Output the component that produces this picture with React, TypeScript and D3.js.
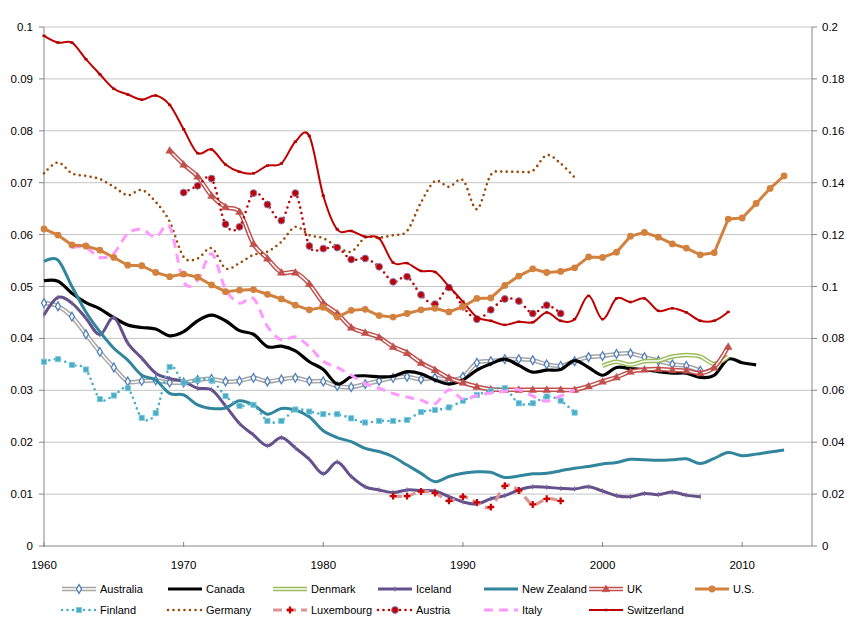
import React from 'react';
import * as d3 from 'd3';

const W = 860;
const H = 628;

// ---- data ----
const australiaStart = 1960;
const australia = [
  0.0468, 0.0462, 0.0442, 0.0408, 0.0374, 0.0344, 0.0317, 0.0318, 0.0319, 0.0315,
  0.0315, 0.0320, 0.0322, 0.0317, 0.0318, 0.0324, 0.0317, 0.0321, 0.0324, 0.0318,
  0.0317, 0.0308, 0.0306, 0.0312, 0.0318, 0.0324, 0.0326, 0.0321, 0.0324, 0.0320,
  0.0326, 0.0353, 0.0356, 0.0360, 0.0360, 0.0358, 0.0350, 0.0347, 0.0356, 0.0364,
  0.0366, 0.0370, 0.0371, 0.0364, 0.0357, 0.0350, 0.0347, 0.0338,
];
const canadaStart = 1960;
const canada = [
  0.0511, 0.0510, 0.0487, 0.0469, 0.0457, 0.0440, 0.0426, 0.0421, 0.0418, 0.0405,
  0.0413, 0.0434, 0.0445, 0.0434, 0.0415, 0.0408, 0.0384, 0.0385, 0.0376, 0.0355,
  0.0340, 0.0312, 0.0326, 0.0328, 0.0326, 0.0327, 0.0336, 0.0332, 0.0320, 0.0312,
  0.0320, 0.0339, 0.0351, 0.0360, 0.0348, 0.0335, 0.0339, 0.0340, 0.0357, 0.0344,
  0.0329, 0.0344, 0.0342, 0.0340, 0.0336, 0.0333, 0.0333, 0.0325, 0.0329, 0.0360,
  0.0353, 0.0349,
];
const denmarkStart = 2000;
const denmark = [0.0347, 0.0355, 0.0349, 0.0356, 0.0357, 0.0365, 0.0368, 0.0365, 0.0351, 0.0365];
const icelandStart = 1960;
const iceland = [
  0.0445, 0.0479, 0.0468, 0.0439, 0.0407, 0.0440, 0.0391, 0.0362, 0.0333, 0.0323,
  0.0317, 0.0304, 0.0301, 0.0270, 0.0236, 0.0214, 0.0193, 0.0209, 0.0189, 0.0167,
  0.0139, 0.0162, 0.0134, 0.0114, 0.0108, 0.0103, 0.0108, 0.0107, 0.0106, 0.0095,
  0.0085, 0.0081, 0.0091, 0.0097, 0.0108, 0.0114, 0.0113, 0.0111, 0.0110, 0.0114,
  0.0106, 0.0097, 0.0095, 0.0101, 0.0099, 0.0104, 0.0098, 0.0095,
];
const newZealandStart = 1960;
const newZealand = [
  0.0548, 0.0551, 0.0500, 0.0451, 0.0413, 0.0381, 0.0358, 0.0329, 0.0320, 0.0294,
  0.0291, 0.0272, 0.0265, 0.0266, 0.0280, 0.0272, 0.0254, 0.0265, 0.0262, 0.0249,
  0.0222, 0.0209, 0.0201, 0.0188, 0.0182, 0.0172, 0.0156, 0.0140, 0.0124, 0.0134,
  0.0140, 0.0143, 0.0142, 0.0132, 0.0135, 0.0139, 0.0140, 0.0145, 0.0150, 0.0153,
  0.0158, 0.0161, 0.0167, 0.0166, 0.0165, 0.0166, 0.0168, 0.0159, 0.0169, 0.0180,
  0.0174, 0.0177, 0.0181, 0.0185,
];
const ukStart = 1969;
const uk = [
  0.0762, 0.0735, 0.0712, 0.0675, 0.0653, 0.0644, 0.0582, 0.0554, 0.0527, 0.0527,
  0.0505, 0.0468, 0.0448, 0.0421, 0.0411, 0.0402, 0.0384, 0.0372, 0.0353, 0.0339,
  0.0324, 0.0315, 0.0307, 0.0302, 0.0301, 0.0301, 0.0301, 0.0301, 0.0301, 0.0301,
  0.0308, 0.0317, 0.0325, 0.0336, 0.0340, 0.0341, 0.0339, 0.0338, 0.0333, 0.0344,
  0.0384,
];
// U.S. is plotted against the secondary (right) axis
const usStart = 1960;
const us = [
  0.1222, 0.1198, 0.1160, 0.1156, 0.1140, 0.1112, 0.1082, 0.1080, 0.1054, 0.1038,
  0.1048, 0.1036, 0.1006, 0.0980, 0.0986, 0.0988, 0.0970, 0.0952, 0.0928, 0.0910,
  0.0920, 0.0882, 0.0908, 0.0912, 0.0888, 0.0882, 0.0896, 0.0910, 0.0916, 0.0902,
  0.0922, 0.0954, 0.0956, 0.1004, 0.1040, 0.1068, 0.1054, 0.1058, 0.1072, 0.1114,
  0.1112, 0.1132, 0.1194, 0.1208, 0.1190, 0.1164, 0.1148, 0.1122, 0.1130, 0.1260,
  0.1264, 0.1320, 0.1378, 0.1426,
];
const finlandStart = 1960;
const finland = [
  0.0355, 0.0360, 0.0349, 0.0340, 0.0283, 0.0290, 0.0304, 0.0247, 0.0256, 0.0345,
  0.0315, 0.0320, 0.0319, 0.0289, 0.0270, 0.0272, 0.0241, 0.0241, 0.0263, 0.0259,
  0.0254, 0.0254, 0.0246, 0.0238, 0.0241, 0.0241, 0.0243, 0.0258, 0.0262, 0.0267,
  0.0280, 0.0291, 0.0299, 0.0304, 0.0275, 0.0275, 0.0288, 0.0280, 0.0257,
];
const germanyStart = 1960;
const germany = [
  0.0718, 0.0739, 0.0718, 0.0713, 0.0707, 0.0692, 0.0676, 0.0686, 0.0663, 0.0625,
  0.0557, 0.0554, 0.0574, 0.0535, 0.0545, 0.0561, 0.0567, 0.0586, 0.0615, 0.0599,
  0.0593, 0.0577, 0.0567, 0.0594, 0.0594, 0.0599, 0.0607, 0.0662, 0.0703, 0.0692,
  0.0705, 0.0649, 0.0715, 0.0721, 0.0721, 0.0723, 0.0753, 0.0737, 0.0710,
];
const luxembourgStart = 1985;
const luxembourg = [
  0.0096, 0.0096, 0.0105, 0.0102, 0.0087, 0.0095, 0.0084, 0.0075, 0.0116, 0.0107,
  0.0080, 0.0091, 0.0087,
];
const austriaStart = 1970;
const austria = [
  0.0681, 0.0694, 0.0708, 0.0620, 0.0615, 0.0680, 0.0658, 0.0627, 0.0680, 0.0578,
  0.0573, 0.0575, 0.0552, 0.0554, 0.0538, 0.0509, 0.0519, 0.0484, 0.0466, 0.0498,
  0.0461, 0.0437, 0.0455, 0.0476, 0.0472, 0.0448, 0.0464, 0.0448,
];
const italyStart = 1962;
const italy = [
  0.0575, 0.0575, 0.0556, 0.0564, 0.0602, 0.0610, 0.0595, 0.0615, 0.0509, 0.0512,
  0.0563, 0.0495, 0.0468, 0.0477, 0.0423, 0.0397, 0.0403, 0.0384, 0.0356, 0.0344,
  0.0329, 0.0313, 0.0304, 0.0294, 0.0287, 0.0281, 0.0274, 0.0301, 0.0283, 0.0290,
  0.0295, 0.0298, 0.0301, 0.0289, 0.0279, 0.0289, 0.0301,
];
const switzerlandStart = 1960;
const switzerland = [
  0.0983, 0.0970, 0.0970, 0.0938, 0.0909, 0.0881, 0.0870, 0.0860, 0.0868, 0.0850,
  0.0803, 0.0757, 0.0764, 0.0735, 0.0721, 0.0718, 0.0733, 0.0737, 0.0779, 0.0790,
  0.0675, 0.0610, 0.0607, 0.0596, 0.0593, 0.0546, 0.0545, 0.0530, 0.0528, 0.0500,
  0.0471, 0.0441, 0.0434, 0.0426, 0.0432, 0.0431, 0.0450, 0.0434, 0.0437, 0.0482,
  0.0437, 0.0477, 0.0470, 0.0477, 0.0453, 0.0458, 0.0450, 0.0434, 0.0434, 0.0451,
];

const xTickYears = [1960, 1970, 1980, 1990, 2000, 2010];
const leftTicks = [0, 0.01, 0.02, 0.03, 0.04, 0.05, 0.06, 0.07, 0.08, 0.09, 0.1];
const rightTicks = [0, 0.02, 0.04, 0.06, 0.08, 0.1, 0.12, 0.14, 0.16, 0.18, 0.2];

type Marker = 'none' | 'diamond' | 'triangle' | 'circle' | 'square' | 'cross' | 'dot' | 'plus' | 'austria';
interface Series {
  name: string;
  start: number;
  values: number[];
  axis: 'L' | 'R';
  color: string;
  width: number;
  double?: boolean;
  dash?: string;
  round?: boolean;
  smooth: boolean;
  marker: Marker;
  markerColor?: string;
}

const series: Series[] = [
  { name: 'Australia', start: australiaStart, values: australia, axis: 'L', color: '#a6a6a6', width: 4.5, double: true, smooth: true, marker: 'diamond', markerColor: '#4f81bd' },
  { name: 'Canada', start: canadaStart, values: canada, axis: 'L', color: '#000000', width: 3.2, smooth: true, marker: 'none' },
  { name: 'Denmark', start: denmarkStart, values: denmark, axis: 'L', color: '#9bbb59', width: 4.5, double: true, smooth: true, marker: 'none' },
  { name: 'Iceland', start: icelandStart, values: iceland, axis: 'L', color: '#64508a', width: 3, smooth: true, marker: 'plus', markerColor: '#8064a2' },
  { name: 'New Zealand', start: newZealandStart, values: newZealand, axis: 'L', color: '#31859c', width: 3, smooth: true, marker: 'none' },
  { name: 'UK', start: ukStart, values: uk, axis: 'L', color: '#c0504d', width: 4.5, double: true, smooth: true, marker: 'triangle', markerColor: '#c0504d' },
  { name: 'Finland', start: finlandStart, values: finland, axis: 'L', color: '#4bacc6', width: 2.6, dash: '0 5.5', round: true, smooth: true, marker: 'square', markerColor: '#4bacc6' },
  { name: 'Germany', start: germanyStart, values: germany, axis: 'L', color: '#984807', width: 2.6, dash: '0 5.5', round: true, smooth: true, marker: 'none' },
  { name: 'Luxembourg', start: luxembourgStart, values: luxembourg, axis: 'L', color: '#d99694', width: 3.2, dash: '9 5', smooth: true, marker: 'cross', markerColor: '#cc0000' },
  { name: 'Austria', start: austriaStart, values: austria, axis: 'L', color: '#c00000', width: 2.6, dash: '0 5.5', round: true, smooth: true, marker: 'austria', markerColor: '#c00000' },
  { name: 'Italy', start: italyStart, values: italy, axis: 'L', color: '#ff99ff', width: 3, dash: '9 6', smooth: true, marker: 'none' },
  { name: 'Switzerland', start: switzerlandStart, values: switzerland, axis: 'L', color: '#c00000', width: 2, smooth: true, marker: 'dot', markerColor: '#b00000' },
  { name: 'U.S.', start: usStart, values: us, axis: 'R', color: '#d2813e', width: 3, smooth: false, marker: 'circle', markerColor: '#d2813e' },
];

const legendOrder = ['Australia', 'Canada', 'Denmark', 'Iceland', 'New Zealand', 'UK', 'U.S.',
  'Finland', 'Germany', 'Luxembourg', 'Austria', 'Italy', 'Switzerland'];

const FONT = '"Liberation Sans", Arial, sans-serif';

function MarkerShape({ m, x, y, color }: { m: Marker; x: number; y: number; color?: string }) {
  const c = color || '#000';
  switch (m) {
    case 'diamond':
      return <path d={d3.symbol(d3.symbolDiamond, 22)() as string} transform={`translate(${x},${y})`} fill="#fff" stroke={c} strokeWidth={1.3} />;
    case 'triangle':
      return <path d={d3.symbol(d3.symbolTriangle, 26)() as string} transform={`translate(${x},${y + 0.5})`} fill={c} stroke={c} strokeWidth={0.5} />;
    case 'circle':
      return <circle cx={x} cy={y} r={3.4} fill={c} />;
    case 'austria':
      return <circle cx={x} cy={y} r={3.4} fill={c} stroke="#8c7ab8" strokeWidth={1} />;
    case 'square':
      return <rect x={x - 2.6} y={y - 2.6} width={5.2} height={5.2} fill={c} stroke="#7fcbdf" strokeWidth={0.8} />;
    case 'cross':
      return <path d={d3.symbol(d3.symbolCross, 26)() as string} transform={`translate(${x},${y}) rotate(0)`} fill={c} />;
    case 'dot':
      return <rect x={x - 1.6} y={y - 1.2} width={3.2} height={2.4} fill={c} />;
    case 'plus':
      return <path d={`M${x},${y - 2.5}V${y + 2.5}`} stroke={c} strokeWidth={1} />;
    default:
      return null;
  }
}

export default function App() {
  const left = 44, right = 812, top = 27, bottom = 546;
  const x = d3.scaleLinear().domain([1960, 2015]).range([left, right]);
  const yL = d3.scaleLinear().domain([0, 0.1]).range([bottom, top]);
  const yR = d3.scaleLinear().domain([0, 0.2]).range([bottom, top]);

  const pathFor = (s: Series) => {
    const ys = s.axis === 'L' ? yL : yR;
    const gen = d3.line<number>()
      .x((_, i) => x(s.start + i))
      .y((v) => ys(v))
      .curve(s.smooth ? d3.curveCardinal.tension(0) : d3.curveLinear);
    return gen(s.values) as string;
  };

  const drawLine = (s: Series, d: string, key: string) => (
    <g key={key}>
      <path d={d} fill="none" stroke={s.color} strokeWidth={s.width}
        strokeDasharray={s.dash} strokeLinecap={s.round ? 'round' : 'butt'} strokeLinejoin="round" />
      {s.double && <path d={d} fill="none" stroke="#ffffff" strokeWidth={1.5} strokeLinejoin="round" />}
    </g>
  );

  const legendCols = [62, 168, 273, 378, 484, 589, 695];
  const legendRows = [589, 610];

  return (
    <svg width={W} height={H} style={{ position: 'absolute', left: 0, top: 0, background: '#fff' }}
      fontFamily={FONT}>
      <rect width={W} height={H} fill="#fff" />
      {/* gridlines */}
      {leftTicks.filter((t) => t > 0).map((t) => (
        <line key={'g' + t} x1={left} x2={right} y1={yL(t)} y2={yL(t)} stroke="#c4c4c4" strokeWidth={1} />
      ))}
      {/* axes */}
      <line x1={left} x2={left} y1={top} y2={bottom} stroke="#868686" />
      <line x1={right} x2={right} y1={top} y2={bottom} stroke="#868686" />
      <line x1={left} x2={right} y1={bottom} y2={bottom} stroke="#868686" />
      {leftTicks.map((t) => (
        <g key={'lt' + t}>
          <line x1={left - 5} x2={left} y1={yL(t)} y2={yL(t)} stroke="#868686" />
          <text x={33} y={yL(t)} dy="0.35em" textAnchor="end" fontSize={11.5} fill="#000">{String(t)}</text>
        </g>
      ))}
      {rightTicks.map((t) => (
        <g key={'rt' + t}>
          <line x1={right} x2={right + 5} y1={yR(t)} y2={yR(t)} stroke="#868686" />
          <text x={822} y={yR(t)} dy="0.35em" textAnchor="start" fontSize={11.5} fill="#000">{String(t)}</text>
        </g>
      ))}
      {xTickYears.map((yr) => (
        <g key={'xt' + yr}>
          <line x1={x(yr)} x2={x(yr)} y1={bottom - 4} y2={bottom + 1} stroke="#868686" />
          <text x={x(yr)} y={565} dy="0.35em" textAnchor="middle" fontSize={11.5} fill="#000">{yr}</text>
        </g>
      ))}

      {/* series */}
      {series.map((s) => {
        const d = pathFor(s);
        const ys = s.axis === 'L' ? yL : yR;
        return (
          <g key={s.name}>
            {drawLine(s, d, s.name + 'l')}
            {s.marker !== 'none' && s.values.map((v, i) => (
              <MarkerShape key={i} m={s.marker} x={x(s.start + i)} y={ys(v)} color={s.markerColor} />
            ))}
          </g>
        );
      })}

      {/* legend */}
      {legendOrder.map((name, idx) => {
        const s = series.find((q) => q.name === name)!;
        const row = idx < 7 ? 0 : 1;
        const col = idx < 7 ? idx : idx - 7;
        const lx = legendCols[col];
        const ly = legendRows[row];
        const d = `M${lx},${ly}H${lx + 34}`;
        return (
          <g key={'lg' + name}>
            {drawLine(s, d, 'lgl' + name)}
            <MarkerShape m={s.marker} x={lx + 17} y={ly} color={s.markerColor} />
            <text x={lx + 38} y={ly} dy="0.35em" fontSize={11} fill="#000">{name}</text>
          </g>
        );
      })}
    </svg>
  );
}
